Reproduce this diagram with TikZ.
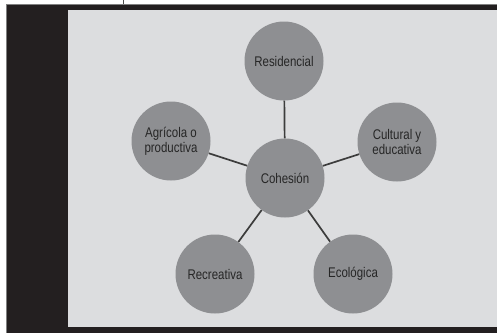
\documentclass[tikz,border=0pt]{standalone}
\usepackage{fontspec}
\setmainfont{Liberation Sans}[FakeStretch=0.82]
\definecolor{frame}{HTML}{231F20}
\definecolor{panel}{HTML}{DCDDDF}
\definecolor{disc}{HTML}{8E8F92}
\definecolor{link}{HTML}{3C3C3C}
\begin{document}
\begin{tikzpicture}[x=1pt,y=-1pt,
  hub/.style={circle,fill=disc,minimum size=79pt,inner sep=0pt,align=center,
    font=\fontsize{14}{15}\selectfont,text=black!85},
  link/.style={draw=link,line width=1.7pt}]
\useasboundingbox (0,0) rectangle (497,333);
\fill[white] (0,0) rectangle (497,333);
\fill[frame] (6,4) rectangle (497,333);
\fill[panel] (68,10) rectangle (497,327);
\draw[gray,line width=0.8pt] (6,4.4) -- (497,4.4);
\draw[gray,line width=0.8pt] (6.4,4) -- (6.4,333);
\coordinate (t1) at (123,0);
\coordinate (t2) at (123,4);
\draw[black!70,line width=0.9pt] (t1) -- (t2);
\node[hub] (c) at (285,178) {Cohesión};
\node[hub] (r) at (284,61) {Residencial};
\node[hub] (a) at (171,141) {Agrícola o\\productiva};
\node[hub] (cu) at (397,142) {Cultural y\\educativa};
\node[hub] (re) at (215,274) {Recreativa};
\node[hub] (e) at (353,274) {Ecológica};
\draw[link] (c) -- (r);
\draw[link] (c) -- (a);
\draw[link] (c) -- (cu);
\draw[link] (c) -- (re);
\draw[link] (c) -- (e);
\end{tikzpicture}
\end{document}
